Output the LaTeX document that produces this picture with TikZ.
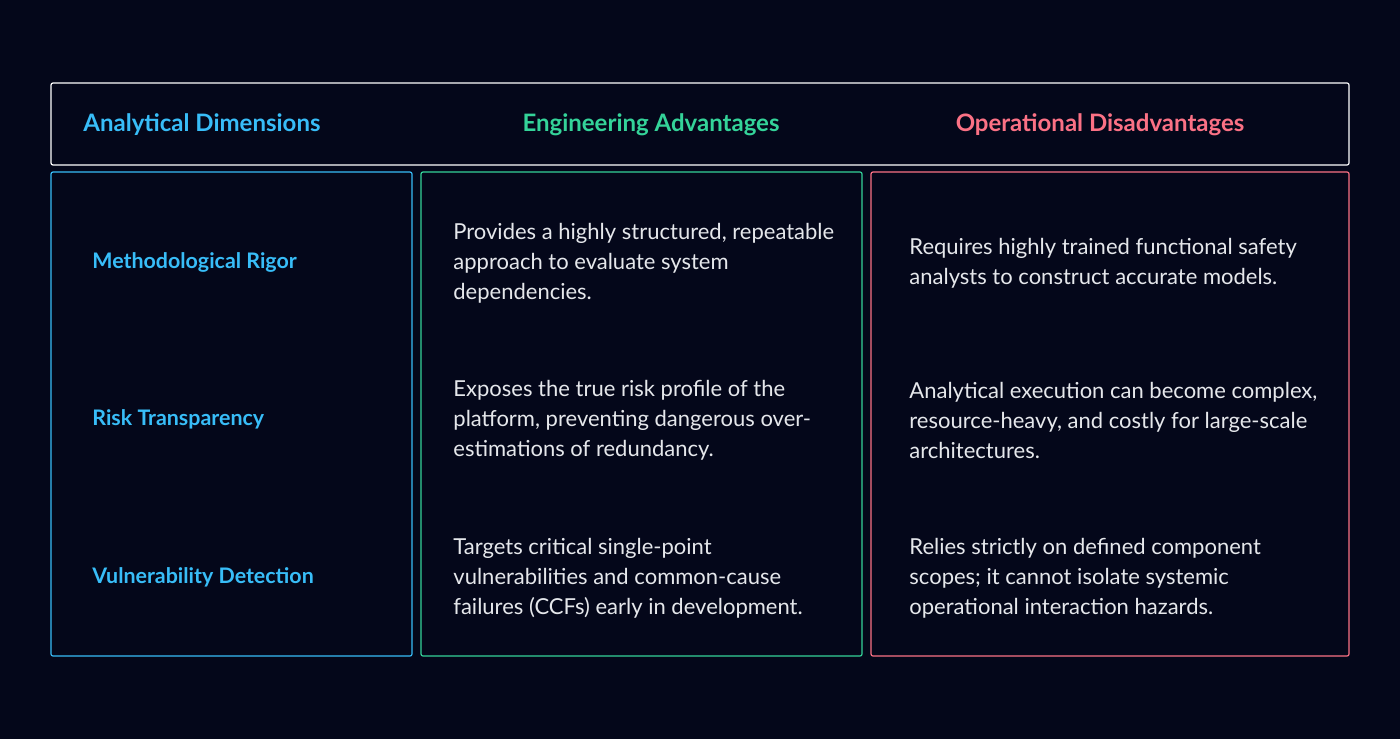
\documentclass[tikz,border=0pt]{standalone}
\usepackage{fontspec}
\setmainfont{Lato}
\usetikzlibrary{positioning}
\definecolor{bg}{HTML}{04071A}
\definecolor{dimblue}{HTML}{38BDF8}
\definecolor{advgreen}{HTML}{34D399}
\definecolor{disred}{HTML}{FB7185}
\definecolor{bodytext}{HTML}{E5E7EB}
\begin{document}
\begin{tikzpicture}[
    x=0.5pt, y=-0.5pt,
    frame/.style = {draw, line width=0.6pt, rounded corners=1pt},
    head/.style = {font=\fontsize{12}{14}\selectfont\bfseries, inner sep=0pt},
    dim/.style = {head, text=dimblue, anchor=west, font=\fontsize{10.7}{13}\selectfont\bfseries},
    body/.style = {text=bodytext, anchor=west, align=left, inner sep=0pt,
                   font=\fontsize{11}{15}\selectfont}
  ]
    \fill[bg] (0,0) rectangle (1400,739);
    \useasboundingbox (0,0) rectangle (1400,739);

    % header and column frames
    \draw[frame, white] (51,83) rectangle (1349,165);
    \draw[frame, dimblue] (51,172) rectangle (412,656);
    \draw[frame, advgreen] (421,172) rectangle (862,656);
    \draw[frame, disred] (871,172) rectangle (1349,656);

    \node[head, text=dimblue, anchor=west] (hdim) at (83,125) {Analytical Dimensions};
    \node[head, text=advgreen] (hadv) at (651,125) {Engineering Advantages};
    \node[head, text=disred] (hdis) at (1100,125) {Operational Disadvantages};

    % rows
    \node[dim] (rigor) at (92,262) {Methodological Rigor};
    \node[dim] (risk) at (92,419) {Risk Transparency};
    \node[dim] (vuln) at (92,577) {Vulnerability Detection};

    \node[body] (adv1) at (453,263) {Provides a highly structured, repeatable\\approach to evaluate system\\dependencies.};
    \node[body] (adv2) at (453,420) {Exposes the true risk profile of the\\platform, preventing dangerous over-\\estimations of redundancy.};
    \node[body] (adv3) at (453,578) {Targets critical single-point\\vulnerabilities and common-cause\\failures (CCFs) early in development.};

    \node[body] (dis1) at (909,263) {Requires highly trained functional safety\\analysts to construct accurate models.};
    \node[body] (dis2) at (909,420) {Analytical execution can become complex,\\resource-heavy, and costly for large-scale\\architectures.};
    \node[body] (dis3) at (909,578) {Relies strictly on defined component\\scopes; it cannot isolate systemic\\operational interaction hazards.};
\end{tikzpicture}
\end{document}
